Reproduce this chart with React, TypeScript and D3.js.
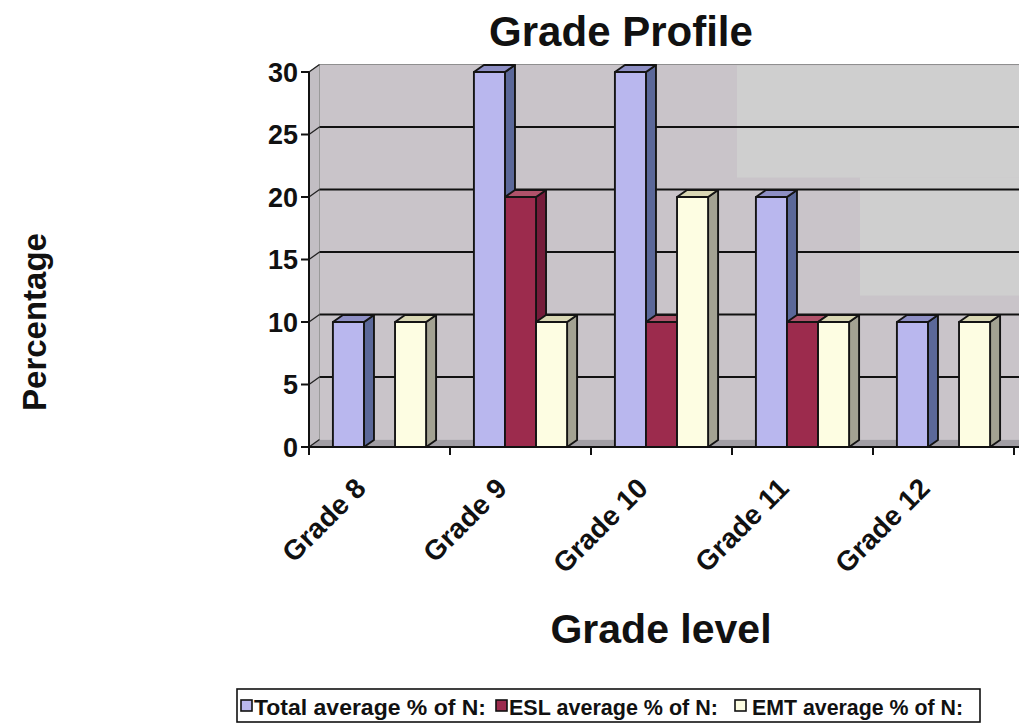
import React from "react";
import * as d3 from "d3";

// Chart data
const categories = ["Grade 8", "Grade 9", "Grade 10", "Grade 11", "Grade 12"];
const seriesNames = ["Total average % of N:", "ESL average % of N:", "EMT average % of N:"];
const totalValues = [10, 30, 30, 20, 10];
const eslValues = [0, 20, 10, 10, 0];
const emtValues = [10, 10, 20, 10, 10];
const yTicks = [0, 5, 10, 15, 20, 25, 30];

// Face colours per series: front, side, top
const seriesColors = [
  { front: "#b9b7ee", side: "#5b6899", top: "#8e8fc4" },
  { front: "#9c2b4d", side: "#751c3a", top: "#b0526a" },
  { front: "#fdfde2", side: "#a3a292", top: "#d9d7b4" },
];

const W = 1019;
const H = 726;
const FONT = "'Liberation Sans', Arial, Helvetica, sans-serif";

// 3D depth offsets for the walls and for the bars
const WALL_DX = 10.5;
const WALL_DY = -7.5;
const BAR_DX = 10;
const BAR_DY = -7;

export default function App() {
  const seriesValues = [totalValues, eslValues, emtValues];

  const x0 = d3.scaleBand<string>().domain(categories).range([309, 1014]).paddingInner(0).paddingOuter(0);
  const x1 = d3
    .scaleBand<string>()
    .domain(seriesNames)
    .range([0, x0.bandwidth()])
    .paddingInner(0)
    .paddingOuter(0.77);
  const y = d3.scaleLinear().domain([0, 30]).range([447, 72]);

  const axisX = x0.range()[0];
  const y0 = y(0);
  const yTop = y(30);

  const bars: React.ReactNode[] = [];
  categories.forEach((cat, i) => {
    seriesNames.forEach((s, j) => {
      const v = seriesValues[j][i];
      if (v <= 0) return;
      const c = seriesColors[j];
      const bx = (x0(cat) as number) + (x1(s) as number);
      const bw = x1.bandwidth();
      const top = y(v);
      const side = [
        [bx + bw, top],
        [bx + bw + BAR_DX, top + BAR_DY],
        [bx + bw + BAR_DX, y0 + BAR_DY],
        [bx + bw, y0],
      ];
      const topFace = [
        [bx, top],
        [bx + BAR_DX, top + BAR_DY],
        [bx + bw + BAR_DX, top + BAR_DY],
        [bx + bw, top],
      ];
      const pts = (p: number[][]) => p.map((q) => q.join(",")).join(" ");
      bars.push(
        <g key={`${cat}-${s}`} stroke="#141414" strokeWidth={1.9} strokeLinejoin="round">
          <polygon points={pts(side)} fill={c.side} />
          <polygon points={pts(topFace)} fill={c.top} />
          <rect x={bx} y={top} width={bw} height={y0 - top} fill={c.front} />
        </g>
      );
    });
  });

  const wallLeft = axisX + WALL_DX;
  // Legend entry layout: swatch x, text x, text width
  const legendItems = [
    { sx: 241, tx: 254, tw: 232 },
    { sx: 496, tx: 509, tw: 209 },
    { sx: 735, tx: 752, tw: 211 },
  ];

  return (
    <svg
      width={W}
      height={H}
      style={{ position: "absolute", left: 0, top: 0, background: "#ffffff" }}
      fontFamily={FONT}
    >
      {/* Back wall */}
      <rect x={wallLeft} y={yTop + WALL_DY} width={W - wallLeft} height={y0 - yTop} fill="#c9c4c9" />
      <rect x={737} y={yTop + WALL_DY + 1} width={W - 737} height={112} fill="#cfcfcf" />
      <rect x={860} y={yTop + WALL_DY + 113} width={W - 860} height={118} fill="#cfcfcf" />
      <line x1={wallLeft} x2={W} y1={yTop + WALL_DY} y2={yTop + WALL_DY} stroke="#8f8f8f" strokeWidth={1.2} />
      {/* Side wall */}
      <polygon
        points={`${axisX},${y0} ${axisX},${yTop} ${wallLeft},${yTop + WALL_DY} ${wallLeft},${y0 + WALL_DY}`}
        fill="#c2bec3"
        stroke="#9a9a9a"
        strokeWidth={1}
      />
      {/* Floor */}
      <polygon
        points={`${axisX},${y0} ${W + 20},${y0} ${W + 20 + WALL_DX},${y0 + WALL_DY} ${wallLeft},${y0 + WALL_DY}`}
        fill="#a19ea4"
      />

      {/* Gridlines on the wall */}
      {yTicks
        .filter((t) => t > 0 && t < 30)
        .map((t) => (
          <line
            key={`g${t}`}
            x1={wallLeft}
            x2={W}
            y1={y(t) + WALL_DY}
            y2={y(t) + WALL_DY}
            stroke="#111"
            strokeWidth={2}
          />
        ))}
      {yTicks.map((t) => (
        <line
          key={`d${t}`}
          x1={axisX}
          y1={y(t)}
          x2={wallLeft}
          y2={y(t) + WALL_DY}
          stroke="#222"
          strokeWidth={1.3}
        />
      ))}

      {/* Bars */}
      {bars}

      {/* Axes */}
      <line x1={axisX} x2={axisX} y1={yTop} y2={y0 + 1} stroke="#111" strokeWidth={2} />
      <line x1={axisX} x2={W} y1={y0} y2={y0} stroke="#111" strokeWidth={2.2} />
      {yTicks.map((t) => (
        <g key={`yt${t}`}>
          <line x1={axisX - 8} x2={axisX} y1={y(t)} y2={y(t)} stroke="#111" strokeWidth={2} />
          <text
            x={axisX - 11}
            y={y(t)}
            dy="0.36em"
            textAnchor="end"
            fontSize={27}
            fontWeight="bold"
            fill="#111"
          >
            {t}
          </text>
        </g>
      ))}
      {categories.concat(["end"]).map((c, i) => {
        const tx = axisX + i * x0.step();
        return <line key={`xt${i}`} x1={tx} x2={tx} y1={y0} y2={y0 + 8} stroke="#111" strokeWidth={2} />;
      })}
      {categories.map((c) => {
        const cx = (x0(c) as number) + x0.bandwidth() / 2 - 12;
        const cy = 490;
        return (
          <text
            key={`xl${c}`}
            x={cx}
            y={cy}
            transform={`rotate(-45 ${cx} ${cy})`}
            textAnchor="end"
            fontSize={28}
            fontWeight="bold"
            fill="#111"
          >
            {c}
          </text>
        );
      })}

      {/* Titles */}
      <text x={621} y={46} textAnchor="middle" fontSize={42} fontWeight="bold" fill="#111">
        Grade Profile
      </text>
      <text x={661} y={643} textAnchor="middle" fontSize={41} fontWeight="bold" fill="#111">
        Grade level
      </text>
      <text
        x={0}
        y={0}
        transform={`translate(46 322) rotate(-90)`}
        textAnchor="middle"
        fontSize={33}
        fontWeight="bold"
        fill="#111"
      >
        Percentage
      </text>

      {/* Legend */}
      <rect x={237} y={689} width={743} height={33} fill="#fff" stroke="#111" strokeWidth={1.6} />
      {seriesNames.map((s, j) => (
        <g key={`lg${s}`}>
          <rect
            x={legendItems[j].sx}
            y={700}
            width={11}
            height={11}
            fill={seriesColors[j].front}
            stroke="#111"
            strokeWidth={1.6}
          />
          <text
            x={legendItems[j].tx}
            y={715}
            fontSize={22}
            fontWeight="bold"
            fill="#111"
            textLength={legendItems[j].tw}
            lengthAdjust="spacingAndGlyphs"
          >
            {s}
          </text>
        </g>
      ))}
    </svg>
  );
}
